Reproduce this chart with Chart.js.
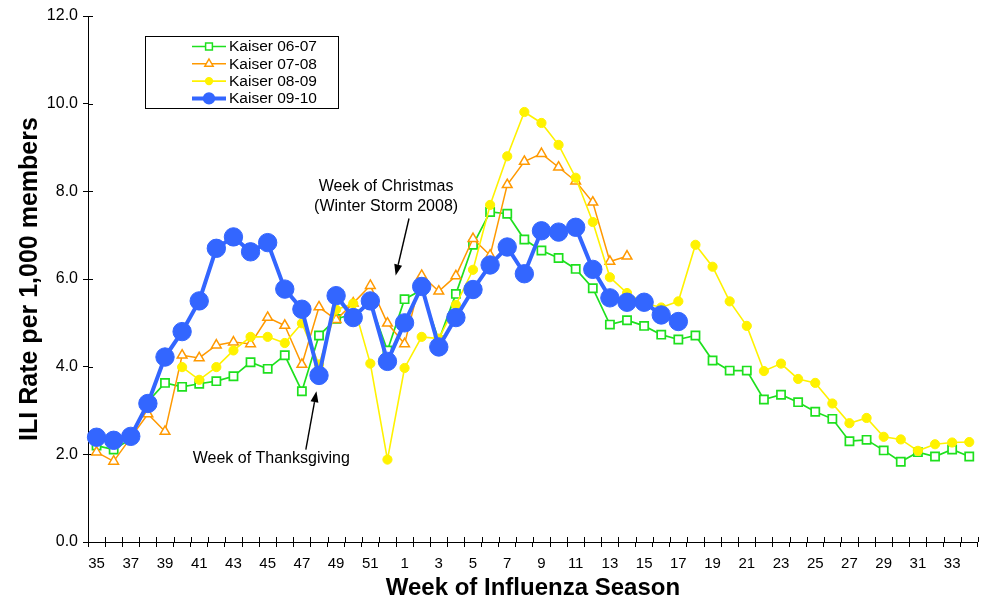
<!DOCTYPE html>
<html><head><meta charset="utf-8">
<script src="https://cdn.jsdelivr.net/npm/chart.js@4/dist/chart.umd.min.js"></script>
<style>html,body{margin:0;padding:0;background:#fff}#wrap{width:988px;height:603px}</style>
</head><body><div id="wrap"><canvas id="c" width="988" height="603"></canvas></div>
<script>
const weeks = ['35','36','37','38','39','40','41','42','43','44','45','46','47','48','49','50','51','52',
  '1','2','3','4','5','6','7','8','9','10','11','12','13','14','15','16','17','18','19','20',
  '21','22','23','24','25','26','27','28','29','30','31','32','33','34'];
const kaiser0607 = [2.2,2.11,2.35,3.2,3.63,3.54,3.61,3.67,3.78,4.1,3.95,4.26,3.44,4.71,5.09,5.2,5.45,4.37,
  5.54,5.75,4.6,5.66,6.78,7.53,7.49,6.9,6.65,6.48,6.23,5.79,4.96,5.06,4.93,4.73,4.62,4.71,4.14,3.91,
  3.91,3.25,3.36,3.19,2.97,2.81,2.3,2.33,2.09,1.83,2.05,1.95,2.11,1.95];
const kaiser0708 = [2.05,1.84,2.38,2.92,2.52,4.26,4.2,4.49,4.56,4.52,5.12,4.94,4.05,5.36,5.07,5.45,5.85,4.99,
  4.52,6.08,5.72,6.07,6.92,6.54,8.15,8.68,8.86,8.55,8.23,7.75,6.4,6.52,null,null,null,null,null,null,
  null,null,null,null,null,null,null,null,null,null,null,null,null,null];
const kaiser0809 = [null,null,null,null,null,3.99,3.7,3.99,4.37,4.68,4.68,4.54,4.99,4.05,5.3,5.44,4.07,1.88,
  3.97,4.68,4.64,5.41,6.21,7.69,8.8,9.81,9.56,9.06,8.31,7.3,6.04,5.68,5.45,5.35,5.49,6.78,6.28,5.49,
  4.93,3.9,4.07,3.72,3.63,3.16,2.71,2.83,2.4,2.34,2.08,2.23,2.27,2.28];
const kaiser0910 = [2.39,2.32,2.41,3.16,4.22,4.8,5.5,6.7,6.96,6.62,6.83,5.77,5.31,3.8,5.62,5.12,5.5,4.12,
  5.0,5.83,4.45,5.12,5.76,6.32,6.73,6.12,7.1,7.07,7.18,6.22,5.57,5.47,5.47,5.18,5.03,null,null,null,
  null,null,null,null,null,null,null,null,null,null,null,null,null,null];
const seriesNames = ['Kaiser 06-07','Kaiser 07-08','Kaiser 08-09','Kaiser 09-10'];
const yMin = 0, yMax = 12, yStep = 2;
const xTitle = 'Week of Influenza Season';
const yTitle = 'ILI Rate per 1,000 members';

const FONT = '"Liberation Sans", Arial, sans-serif';
const GREEN = '#1ee01e', ORANGE = '#ff9900', YELLOW = '#fff200', BLUE = '#3366ff';

// annotation anchors in data coordinates (category index, value)
const notes = [
  {lines:['Week of Christmas','(Winter Storm 2008)'], at:[16.92, 8.11], lineStep:0.46,
   from:[18.26, 7.38], to:[17.48, 6.08]},
  {lines:['Week of Thanksgiving'], at:[10.21, 1.91], lineStep:0,
   from:[12.23, 2.11], to:[12.85, 3.44]}
];

const legendMarks = [
  {style:'rect', r:3.4, fill:'#fff', stroke:GREEN, lw:1.7},
  {style:'triangle', r:4.8, fill:'#fff', stroke:ORANGE, lw:1.5},
  {style:'circle', r:3.4, fill:YELLOW, stroke:YELLOW, lw:1.5},
  {style:'circle', r:5.4, fill:BLUE, stroke:BLUE, lw:4}
];

function marker(ctx, m, x, y){
  ctx.beginPath();
  const r = m.r;
  if(m.style==='circle'){ctx.arc(x,y,r,0,Math.PI*2);}
  else if(m.style==='rect'){ctx.rect(x-r,y-r,2*r,2*r);}
  else {ctx.moveTo(x,y-r); ctx.lineTo(x+r*0.866,y+r*0.5); ctx.lineTo(x-r*0.866,y+r*0.5); ctx.closePath();}
  ctx.fillStyle=m.fill; ctx.fill(); ctx.lineWidth=Math.min(m.lw,1.5); ctx.strokeStyle=m.stroke; ctx.stroke();
}

const innerTicks = {
  id:'innerTicks',
  beforeDatasetsDraw(chart){
    const ctx=chart.ctx, xs=chart.scales.x, ys=chart.scales.y, a=chart.chartArea;
    ctx.save(); ctx.strokeStyle='#000'; ctx.lineWidth=1;
    const n = xs.ticks.length, step=(a.right-a.left)/n;
    ctx.beginPath();
    for(let i=0;i<=n;i++){const x=Math.round(a.left+i*step)+0.5; ctx.moveTo(x,a.bottom); ctx.lineTo(x,a.bottom-5);}
    ys.ticks.forEach(t=>{const y=Math.round(ys.getPixelForValue(t.value))+0.5; ctx.moveTo(a.left,y); ctx.lineTo(a.left+5,y);});
    ctx.stroke(); ctx.restore();
  }
};

const extras = {
  id:'extras',
  afterDraw(chart){
    const ctx=chart.ctx, xs=chart.scales.x, ys=chart.scales.y, a=chart.chartArea;
    ctx.save();
    // annotations
    ctx.font='16px '+FONT; ctx.fillStyle='#000'; ctx.textAlign='center'; ctx.textBaseline='middle';
    notes.forEach(n=>{
      n.lines.forEach((t,i)=>{
        ctx.fillText(t, xs.getPixelForValue(n.at[0]), ys.getPixelForValue(n.at[1]-i*n.lineStep));
      });
      const x1=xs.getPixelForValue(n.from[0]), y1=ys.getPixelForValue(n.from[1]);
      const x2=xs.getPixelForValue(n.to[0]), y2=ys.getPixelForValue(n.to[1]);
      const ang=Math.atan2(y2-y1,x2-x1), L=11, W=4;
      const bx=x2-L*Math.cos(ang), by=y2-L*Math.sin(ang);
      ctx.strokeStyle='#000'; ctx.lineWidth=1.4;
      ctx.beginPath(); ctx.moveTo(x1,y1); ctx.lineTo(bx,by); ctx.stroke();
      ctx.beginPath(); ctx.moveTo(x2,y2);
      ctx.lineTo(bx+W*Math.sin(ang), by-W*Math.cos(ang));
      ctx.lineTo(bx-W*Math.sin(ang), by+W*Math.cos(ang));
      ctx.closePath(); ctx.fillStyle='#000'; ctx.fill();
    });
    // legend
    const lx=a.left+57, ly=a.top+20, lw=193, lh=72;
    ctx.fillStyle='#fff'; ctx.fillRect(lx,ly,lw,lh);
    ctx.strokeStyle='#000'; ctx.lineWidth=1;
    ctx.strokeRect(Math.round(lx)+0.5, Math.round(ly)+0.5, lw, lh);
    ctx.font='15.5px '+FONT; ctx.textAlign='left'; ctx.textBaseline='middle';
    chart.data.datasets.forEach((ds,i)=>{
      const y=ly+10.5+i*17.3;
      ctx.strokeStyle=ds.borderColor; ctx.lineWidth=ds.borderWidth;
      ctx.beginPath(); ctx.moveTo(lx+47,y); ctx.lineTo(lx+81,y); ctx.stroke();
      marker(ctx, legendMarks[i], lx+64, y);
      ctx.fillStyle='#000'; ctx.fillText(ds.label, lx+84, y+0.5);
    });
    ctx.restore();
  }
};

new Chart(document.getElementById('c'), {
  type:'line',
  data:{
    labels:weeks,
    datasets:[
      {label:seriesNames[0], data:kaiser0607, borderColor:GREEN, borderWidth:1.7, pointStyle:'rect',
       pointRadius:5.8, pointBackgroundColor:'#fff', pointBorderColor:GREEN, pointBorderWidth:1.7, order:3},
      {label:seriesNames[1], data:kaiser0708, borderColor:ORANGE, borderWidth:1.5, pointStyle:'triangle',
       pointRadius:5.6, pointBackgroundColor:'#fff', pointBorderColor:ORANGE, pointBorderWidth:1.5, order:2},
      {label:seriesNames[2], data:kaiser0809, borderColor:YELLOW, borderWidth:1.6, pointStyle:'circle',
       pointRadius:4.6, pointBackgroundColor:YELLOW, pointBorderColor:YELLOW, pointBorderWidth:1, order:1},
      {label:seriesNames[3], data:kaiser0910, borderColor:BLUE, borderWidth:4, pointStyle:'circle',
       pointRadius:9.2, pointBackgroundColor:BLUE, pointBorderColor:BLUE, pointBorderWidth:1, order:0}
    ]
  },
  options:{
    responsive:false, animation:false, events:[], devicePixelRatio:1,
    layout:{padding:{top:16,right:8,left:0,bottom:0}},
    elements:{line:{tension:0, fill:false}},
    plugins:{legend:{display:false}, tooltip:{enabled:false}},
    scales:{
      x:{
        type:'category', offset:true,
        grid:{display:true, offset:true, drawOnChartArea:false, drawTicks:true, tickLength:5, color:'#000', lineWidth:1},
        border:{display:true, color:'#000', width:1},
        ticks:{autoSkip:false, maxRotation:0, minRotation:0, padding:8, color:'#000',
          font:{family:FONT, size:15},
          callback:function(v,i){return i%2===0 ? this.getLabelForValue(v) : '';}},
        title:{display:true, text:xTitle, color:'#000', font:{family:FONT, size:24, weight:'bold'}, padding:{top:0,bottom:0}},
        afterFit(s){s.height=61;}
      },
      y:{
        min:yMin, max:yMax,
        grid:{display:true, drawOnChartArea:false, drawTicks:true, tickLength:5, color:'#000', lineWidth:1},
        border:{display:true, color:'#000', width:1},
        ticks:{stepSize:yStep, padding:5, color:'#000', font:{family:FONT, size:16},
          callback:v=>Number(v).toFixed(1)},
        title:{display:true, text:yTitle, color:'#000', font:{family:FONT, size:25, weight:'bold'}, padding:{top:15,bottom:0}},
        afterFit(s){s.width=88;}
      }
    }
  },
  plugins:[innerTicks, extras]
});
</script></body></html>
